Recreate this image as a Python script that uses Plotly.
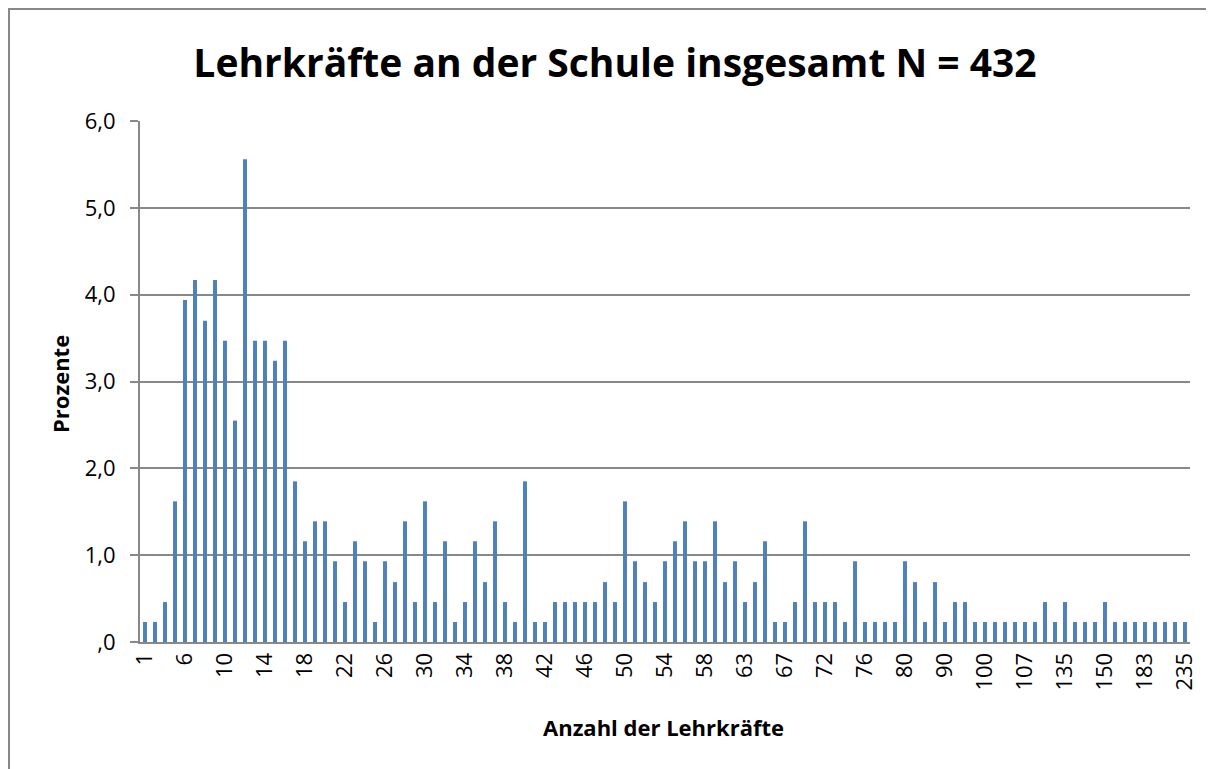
import plotly.graph_objects as go

# Categories (number of teachers); only every 4th label is visible in the chart
categories = [
    "1", "3", "4", "5", "6", "7", "8", "9", "10", "11", "12", "13", "14", "15", "16", "17",
    "18", "19", "20", "21", "22", "23", "24", "25", "26", "27", "28", "29", "30", "31",
    "32", "33", "34", "35", "36", "37", "38", "39", "40", "41", "42", "43", "44", "45",
    "46", "47", "48", "49", "50", "51", "52", "53", "54", "55", "56", "57", "58", "59",
    "60", "62", "63", "64", "65", "66", "67", "68", "69", "70", "72", "73", "74", "75",
    "76", "77", "78", "79", "80", "82", "85", "88", "90", "92", "95", "98", "100", "102",
    "104", "105", "107", "110", "115", "120", "135", "140", "141", "145", "150", "160",
    "165", "170", "183", "200", "207", "210", "235",
]

# Percent of schools (N = 432)
percent = [
    0.23, 0.23, 0.46, 1.62, 3.94, 4.17, 3.70, 4.17, 3.47, 2.55, 5.56, 3.47, 3.47, 3.24, 3.47, 1.85,
    1.16, 1.39, 1.39, 0.93, 0.46, 1.16, 0.93, 0.23, 0.93, 0.69, 1.39, 0.46, 1.62, 0.46,
    1.16, 0.23, 0.46, 1.16, 0.69, 1.39, 0.46, 0.23, 1.85, 0.23, 0.23, 0.46, 0.46, 0.46,
    0.46, 0.46, 0.69, 0.46, 1.62, 0.93, 0.69, 0.46, 0.93, 1.16, 1.39, 0.93, 0.93, 1.39,
    0.69, 0.93, 0.46, 0.69, 1.16, 0.23, 0.23, 0.46, 1.39, 0.46, 0.46, 0.46, 0.23, 0.93,
    0.23, 0.23, 0.23, 0.23, 0.93, 0.69, 0.23, 0.69, 0.23, 0.46, 0.46, 0.23, 0.23, 0.23,
    0.23, 0.23, 0.23, 0.23, 0.46, 0.23, 0.46, 0.23, 0.23, 0.23, 0.46, 0.23,
    0.23, 0.23, 0.23, 0.23, 0.23, 0.23, 0.23,
]

shown_ticks = categories[::4]
y_ticks = [0, 1, 2, 3, 4, 5, 6]
y_ticktext = [",0", "1,0", "2,0", "3,0", "4,0", "5,0", "6,0"]

FONT = "'Open Sans', sans-serif"
W, H = 1214, 769
L, R, T, B = 132, 32, 113, 135
PW, PH = W - L - R, H - T - B

fig = go.Figure(
    go.Bar(
        x=categories,
        y=percent,
        marker=dict(color="#4F81BD", line=dict(width=0)),
    )
)

fig.update_layout(
    width=W,
    height=H,
    margin=dict(l=L, r=R, t=T, b=B),
    paper_bgcolor="white",
    plot_bgcolor="white",
    bargap=0.6,
    showlegend=False,
    font=dict(family=FONT, color="black"),
    title=dict(
        text="<b>Lehrkräfte an der Schule insgesamt N = 432</b>",
        x=0.5,
        xanchor="center",
        xref="container",
        yref="container",
        y=1 - 55 / H,
        yanchor="middle",
        font=dict(size=39, family=FONT, color="black"),
    ),
    xaxis=dict(
        type="category",
        categoryorder="array",
        categoryarray=categories,
        tickmode="array",
        tickvals=shown_ticks,
        ticktext=shown_ticks,
        tickangle=-90,
        tickfont=dict(size=22),
        showgrid=False,
        showline=True,
        linecolor="#888888",
        linewidth=2,
        ticks="",
        range=[-0.5, len(categories) - 0.5],
    ),
    yaxis=dict(
        range=[0, 6],
        tickmode="array",
        tickvals=y_ticks,
        ticktext=y_ticktext,
        tickfont=dict(size=22),
        ticklabelstandoff=10,
        showgrid=True,
        gridcolor="#888888",
        gridwidth=2,
        showline=True,
        linecolor="#888888",
        linewidth=2,
        ticks="outside",
        ticklen=8,
        tickcolor="#888888",
        tickwidth=2,
        zeroline=False,
    ),
)

# Axis titles positioned like the original
fig.add_annotation(
    text="<b>Anzahl der Lehrkräfte</b>",
    xref="paper", yref="paper",
    x=(655 - L) / PW, y=(H - B - 719) / PH,
    xanchor="center", yanchor="middle",
    showarrow=False,
    font=dict(size=22, family=FONT, color="black"),
)
fig.add_annotation(
    text="<b>Prozente</b>",
    xref="paper", yref="paper",
    x=(52 - L) / PW, y=(H - B - 376) / PH,
    xanchor="center", yanchor="middle",
    textangle=-90,
    showarrow=False,
    font=dict(size=22, family=FONT, color="black"),
)

# Outer chart-area border (Excel style)
fig.add_shape(
    type="rect",
    xref="paper", yref="paper",
    x0=(1 - L) / PW,
    x1=(W + 20 - L) / PW,
    y0=-(H + 20 - (H - B)) / PH,
    y1=1 + (T - 1) / PH,
    line=dict(color="#888888", width=2),
    fillcolor="rgba(0,0,0,0)",
    layer="below",
)

fig.write_html("out.html")
